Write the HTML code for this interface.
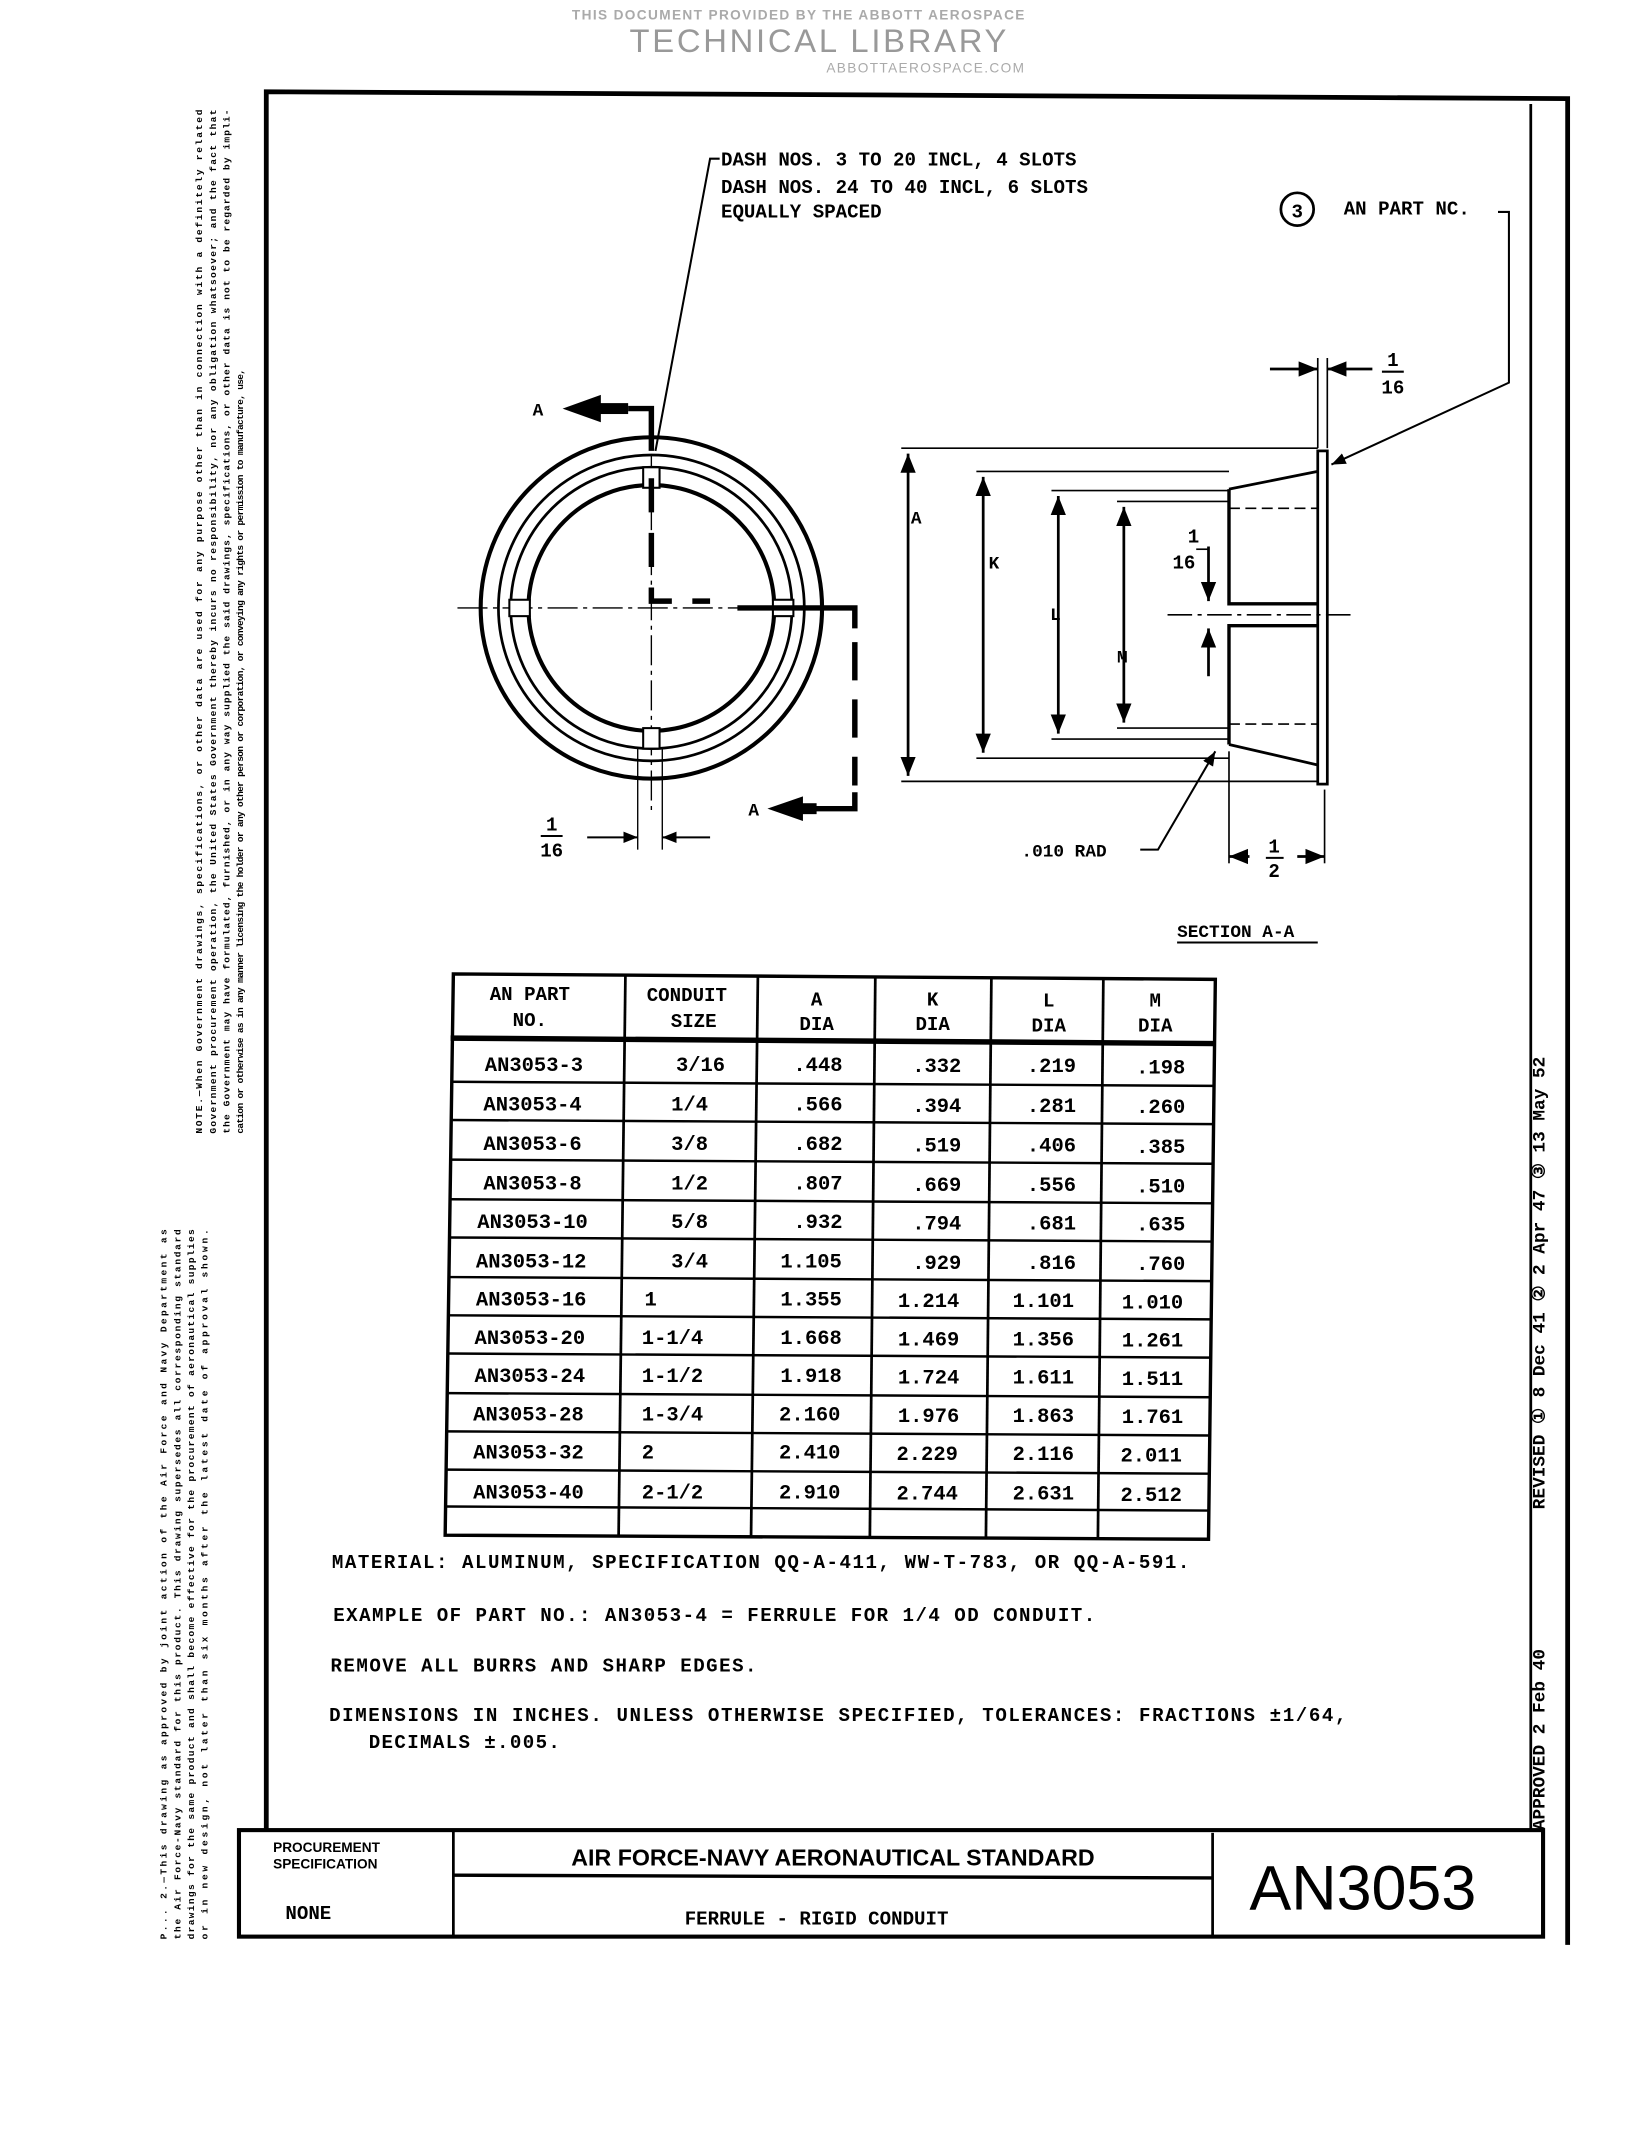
<!DOCTYPE html>
<html><head><meta charset="utf-8"><style>
html,body{margin:0;padding:0;background:#fff;}
svg{display:block;}
text{font-family:"Liberation Mono",monospace;font-weight:bold;fill:#000;}
.s{font-family:"Liberation Sans",sans-serif;}
</style></head><body>
<svg width="1625" height="2139" viewBox="0 0 1190 1566" xmlns="http://www.w3.org/2000/svg">
<defs>
<marker id="ar" viewBox="0 0 10 10" refX="10" refY="5" markerWidth="7" markerHeight="7" orient="auto-start-reverse"><path d="M0,1 L10,5 L0,9 z" fill="#000"/></marker>
</defs>
<text x="585" y="14" text-anchor="middle" class="s" font-size="10" font-weight="normal" fill="#aaa" style="fill:#aaa;letter-spacing:1px">THIS DOCUMENT PROVIDED BY THE ABBOTT AEROSPACE</text>
<text x="600" y="38" text-anchor="middle" class="s" font-size="24" style="fill:#999;font-weight:normal;letter-spacing:2px">TECHNICAL LIBRARY</text>
<text x="678" y="53" text-anchor="middle" class="s" font-size="10" style="fill:#aaa;font-weight:normal;letter-spacing:1px">ABBOTTAEROSPACE.COM</text>

<g stroke="#000" fill="none">
<path d="M195,1340 L195,67 L1148,72 L1148,1424" stroke-width="3.5"/>
<line x1="1121" y1="76" x2="1121" y2="1340" stroke-width="2"/>
<rect x="175" y="1340" width="955" height="78" stroke-width="3"/>
<line x1="332" y1="1340" x2="332" y2="1418" stroke-width="2"/>
<line x1="888" y1="1342" x2="888" y2="1418" stroke-width="2"/>
<line x1="332" y1="1373" x2="888" y2="1375" stroke-width="2.5"/>
</g>
<text x="200" y="1356" class="s" font-size="10" font-weight="bold">PROCUREMENT</text>
<text x="200" y="1368" class="s" font-size="10" font-weight="bold">SPECIFICATION</text>
<text x="209" y="1405" font-size="14" font-weight="normal">NONE</text>
<text x="610" y="1366" text-anchor="middle" class="s" font-size="17" font-weight="bold">AIR FORCE-NAVY AERONAUTICAL STANDARD</text>
<text x="598" y="1409" text-anchor="middle" font-size="14">FERRULE - RIGID CONDUIT</text>
<text x="998" y="1398" text-anchor="middle" class="s" font-size="46" style="font-weight:normal">AN3053</text>

<text transform="translate(1131,1340) rotate(-90)" font-size="13">APPROVED 2 Feb 40</text>
<text transform="translate(1131,1105) rotate(-90)" font-size="13">REVISED ① 8 Dec 41 ② 2 Apr 47 ③ 13 May 52</text>

<g font-size="7" class="s" font-weight="bold">
<text transform="translate(148,830) rotate(-90)" textLength="750">NOTE.—When Government drawings, specifications, or other data are used for any purpose other than in connection with a definitely related</text>
<text transform="translate(158,830) rotate(-90)" textLength="750">Government procurement operation, the United States Government thereby incurs no responsibility, nor any obligation whatsoever; and the fact that</text>
<text transform="translate(168,830) rotate(-90)" textLength="750">the Government may have formulated, furnished, or in any way supplied the said drawings, specifications, or other data is not to be regarded by impli-</text>
<text transform="translate(178,830) rotate(-90)" textLength="560">cation or otherwise as in any manner licensing the holder or any other person or corporation, or conveying any rights or permission to manufacture, use,</text>
<text transform="translate(122,1420) rotate(-90)" textLength="520">P... 2.—This drawing as approved by joint action of the Air Force and Navy Department as</text>
<text transform="translate(132,1420) rotate(-90)" textLength="520">the Air Force-Navy standard for this product. This drawing supersedes all corresponding standard</text>
<text transform="translate(142,1420) rotate(-90)" textLength="520">drawings for the same product and shall become effective for the procurement of aeronautical supplies</text>
<text transform="translate(152,1420) rotate(-90)" textLength="520">or in new design, not later than six months after the latest date of approval shown.</text>
</g>

<g font-size="14">
<text x="528" y="121">DASH NOS. 3 TO 20 INCL, 4 SLOTS</text>
<text x="528" y="141">DASH NOS. 24 TO 40 INCL, 6 SLOTS</text>
<text x="528" y="159">EQUALLY SPACED</text>
<text x="984" y="157">AN PART NC.</text>
</g>
<circle cx="950" cy="153" r="12" fill="none" stroke="#000" stroke-width="2"/>
<text x="950" y="159" text-anchor="middle" font-size="14">3</text>

<g stroke="#000" fill="none">
<polyline points="527,116 520,116 480,330" stroke-width="1.5"/>
<circle cx="477" cy="445" r="125" stroke-width="3"/>
<circle cx="477" cy="445" r="112" stroke-width="2"/>
<circle cx="477" cy="445" r="103" stroke-width="2"/>
<circle cx="477" cy="445" r="90" stroke-width="3"/>
<line x1="335" y1="445" x2="620" y2="445" stroke-width="1" stroke-dasharray="22,4,3,4"/>
<line x1="477" y1="300" x2="477" y2="595" stroke-width="1" stroke-dasharray="22,4,3,4"/>
<g fill="#fff" stroke-width="1.5">
<rect x="471" y="342" width="12" height="15"/>
<rect x="471" y="533" width="12" height="15"/>
<rect x="373" y="439" width="15" height="12"/>
<rect x="566" y="439" width="15" height="12"/>
</g>
<path d="M460,299 L477,299 L477,330" stroke-width="4"/>
<path d="M477,350 L477,440 L520,440" stroke-width="4" stroke-dasharray="25,15"/>
<path d="M540,445 L626,445 L626,460" stroke-width="4"/>
<line x1="626" y1="470" x2="626" y2="575" stroke-width="4" stroke-dasharray="28,14"/>
<path d="M626,580 L626,592 L585,592" stroke-width="4"/>
<line x1="467" y1="548" x2="467" y2="622" stroke-width="1"/>
<line x1="485" y1="548" x2="485" y2="622" stroke-width="1"/>
<line x1="430" y1="613" x2="467" y2="613" stroke-width="1.5" marker-end="url(#ar)"/>
<line x1="520" y1="613" x2="485" y2="613" stroke-width="1.5" marker-end="url(#ar)"/>
</g>
<path d="M412,299 L440,289 L440,309 z"/><rect x="438" y="295" width="22" height="8"/>
<path d="M562,592 L588,583 L588,601 z"/><rect x="586" y="588" width="12" height="8"/>
<text x="390" y="304" font-size="13">A</text>
<text x="548" y="597" font-size="13">A</text>
<g font-size="14" text-anchor="middle"><text x="404" y="608">1</text><text x="404" y="627">16</text><text x="874" y="397">1</text><text x="867" y="416">16</text><text x="1020" y="268">1</text><text x="1020" y="288">16</text><text x="933" y="624">1</text><text x="933" y="642">2</text></g>
<g stroke="#000" stroke-width="1.5"><line x1="396" y1="612" x2="412" y2="612"/><line x1="1012" y1="272" x2="1028" y2="272"/><line x1="927" y1="628" x2="940" y2="628"/></g>

<g stroke="#000" fill="none" stroke-width="1.2">
<line x1="660" y1="328" x2="965" y2="328"/>
<line x1="660" y1="572" x2="965" y2="572"/>
<line x1="665" y1="332" x2="665" y2="568" stroke-width="2" marker-start="url(#ar)" marker-end="url(#ar)"/>
<line x1="715" y1="345" x2="900" y2="345"/>
<line x1="715" y1="555" x2="900" y2="555"/>
<line x1="720" y1="349" x2="720" y2="551" stroke-width="2" marker-start="url(#ar)" marker-end="url(#ar)"/>
<line x1="770" y1="359" x2="900" y2="359"/>
<line x1="770" y1="541" x2="900" y2="541"/>
<line x1="775" y1="363" x2="775" y2="537" stroke-width="2" marker-start="url(#ar)" marker-end="url(#ar)"/>
<line x1="818" y1="367" x2="900" y2="367"/>
<line x1="818" y1="533" x2="900" y2="533"/>
<line x1="823" y1="371" x2="823" y2="529" stroke-width="2" marker-start="url(#ar)" marker-end="url(#ar)"/>
<rect x="965" y="330" width="7" height="244" stroke-width="2"/>
<path d="M900,358 L965,345 M900,545 L965,560" stroke-width="2"/>
<path d="M900,358 L900,442 L965,442 M900,545 L900,458 L965,458" stroke-width="2.5"/>
<line x1="900" y1="372" x2="965" y2="372" stroke-dasharray="8,4"/>
<line x1="900" y1="530" x2="965" y2="530" stroke-dasharray="8,4"/>
<line x1="965" y1="350" x2="965" y2="555" stroke-dasharray="10,5"/>
<line x1="855" y1="450" x2="990" y2="450" stroke-dasharray="18,4,3,4"/>
<line x1="885" y1="400" x2="885" y2="440" stroke-width="2" marker-end="url(#ar)"/>
<line x1="885" y1="495" x2="885" y2="460" stroke-width="2" marker-end="url(#ar)"/>
<polyline points="876,402 885,402"/>
<line x1="965" y1="262" x2="965" y2="328"/>
<line x1="972" y1="262" x2="972" y2="328"/>
<line x1="930" y1="270" x2="965" y2="270" stroke-width="2" marker-end="url(#ar)"/>
<line x1="1005" y1="270" x2="972" y2="270" stroke-width="2" marker-end="url(#ar)"/>
<polyline points="1097,155 1105,155 1105,280 975,340" stroke-width="1.5" marker-end="url(#ar)"/>
<polyline points="835,622 848,622 890,550" stroke-width="1.5" marker-end="url(#ar)"/>
<line x1="900" y1="550" x2="900" y2="632"/>
<line x1="970" y1="578" x2="970" y2="632"/>
<line x1="915" y1="627" x2="900" y2="627" stroke-width="2" marker-end="url(#ar)"/>
<line x1="950" y1="627" x2="970" y2="627" stroke-width="2" marker-end="url(#ar)"/>
<line x1="862" y1="690" x2="965" y2="690" stroke-width="1.5"/>
</g>
<g font-size="13"><text x="667" y="383">A</text><text x="724" y="416">K</text><text x="769" y="454">L</text><text x="818" y="485">M</text><text x="748" y="627">.010 RAD</text><text x="862" y="686">SECTION A-A</text></g>

<g stroke="#000" fill="none" stroke-width="2">
<path d="M332,713 L890,717 L885,1127 L326,1124 z" stroke-width="2.5"/>
<line x1="330" y1="760" x2="889" y2="764" stroke-width="4"/>
<line x1="458" y1="714" x2="453" y2="1125"/>
<line x1="555" y1="715" x2="550" y2="1125"/>
<line x1="641" y1="715" x2="637" y2="1126"/>
<line x1="726" y1="716" x2="722" y2="1126"/>
<line x1="808" y1="716" x2="804" y2="1127"/>
</g>
<g stroke="#000" stroke-width="1.8">
<line x1="330" y1="792" x2="889" y2="795"/>
<line x1="330" y1="820" x2="889" y2="823"/>
<line x1="329" y1="849" x2="888" y2="852"/>
<line x1="329" y1="878" x2="888" y2="881"/>
<line x1="329" y1="906" x2="888" y2="909"/>
<line x1="329" y1="935" x2="888" y2="938"/>
<line x1="328" y1="963" x2="887" y2="966"/>
<line x1="328" y1="991" x2="887" y2="994"/>
<line x1="328" y1="1020" x2="887" y2="1023"/>
<line x1="327" y1="1048" x2="886" y2="1051"/>
<line x1="327" y1="1076" x2="886" y2="1079"/>
<line x1="327" y1="1103" x2="886" y2="1106"/>
</g>
<g font-size="14" text-anchor="middle">
<text x="388" y="732">AN PART</text><text x="388" y="751">NO.</text>
<text x="503" y="733">CONDUIT</text><text x="508" y="752">SIZE</text>
<text x="598" y="736">A</text><text x="598" y="754">DIA</text>
<text x="683" y="736">K</text><text x="683" y="754">DIA</text>
<text x="768" y="737">L</text><text x="768" y="755">DIA</text>
<text x="846" y="737">M</text><text x="846" y="755">DIA</text>
</g>
<g font-size="15">
<g text-anchor="middle">
<text x="391" y="784">AN3053-3</text><text x="390" y="813">AN3053-4</text><text x="390" y="842">AN3053-6</text><text x="390" y="871">AN3053-8</text><text x="390" y="899">AN3053-10</text><text x="389" y="928">AN3053-12</text><text x="389" y="956">AN3053-16</text><text x="388" y="984">AN3053-20</text><text x="388" y="1012">AN3053-24</text><text x="387" y="1040">AN3053-28</text><text x="387" y="1068">AN3053-32</text><text x="387" y="1097">AN3053-40</text>
<text x="513" y="784">3/16</text><text x="505" y="813">1/4</text><text x="505" y="842">3/8</text><text x="505" y="871">1/2</text><text x="505" y="899">5/8</text><text x="505" y="928">3/4</text>
<text x="599" y="784">.448</text><text x="599" y="813">.566</text><text x="599" y="842">.682</text><text x="599" y="871">.807</text><text x="599" y="899">.932</text><text x="594" y="928">1.105</text><text x="594" y="956">1.355</text><text x="594" y="984">1.668</text><text x="594" y="1012">1.918</text><text x="593" y="1040">2.160</text><text x="593" y="1068">2.410</text><text x="593" y="1097">2.910</text>
<text x="686" y="785">.332</text><text x="686" y="814">.394</text><text x="686" y="843">.519</text><text x="686" y="872">.669</text><text x="686" y="900">.794</text><text x="686" y="929">.929</text><text x="680" y="957">1.214</text><text x="680" y="985">1.469</text><text x="680" y="1013">1.724</text><text x="680" y="1041">1.976</text><text x="679" y="1069">2.229</text><text x="679" y="1098">2.744</text>
<text x="770" y="785">.219</text><text x="770" y="814">.281</text><text x="770" y="843">.406</text><text x="770" y="872">.556</text><text x="770" y="900">.681</text><text x="770" y="929">.816</text><text x="764" y="957">1.101</text><text x="764" y="985">1.356</text><text x="764" y="1013">1.611</text><text x="764" y="1041">1.863</text><text x="764" y="1069">2.116</text><text x="764" y="1098">2.631</text>
<text x="850" y="786">.198</text><text x="850" y="815">.260</text><text x="850" y="844">.385</text><text x="850" y="873">.510</text><text x="850" y="901">.635</text><text x="850" y="930">.760</text><text x="844" y="958">1.010</text><text x="844" y="986">1.261</text><text x="844" y="1014">1.511</text><text x="844" y="1042">1.761</text><text x="843" y="1070">2.011</text><text x="843" y="1099">2.512</text>
</g>
<text x="472" y="956">1</text><text x="470" y="984">1-1/4</text><text x="470" y="1012">1-1/2</text><text x="470" y="1040">1-3/4</text><text x="470" y="1068">2</text><text x="470" y="1097">2-1/2</text>
</g>

<g font-size="14">
<text x="243" y="1148" textLength="628">MATERIAL: ALUMINUM, SPECIFICATION QQ-A-411, WW-T-783, OR QQ-A-591.</text>
<text x="244" y="1187" textLength="558">EXAMPLE OF PART NO.: AN3053-4 = FERRULE FOR 1/4 OD CONDUIT.</text>
<text x="242" y="1224" textLength="312">REMOVE ALL BURRS AND SHARP EDGES.</text>
<text x="241" y="1260" textLength="745">DIMENSIONS IN INCHES. UNLESS OTHERWISE SPECIFIED, TOLERANCES: FRACTIONS ±1/64,</text>
<text x="270" y="1280" textLength="140">DECIMALS ±.005.</text>
</g>
</svg>
</body></html>
